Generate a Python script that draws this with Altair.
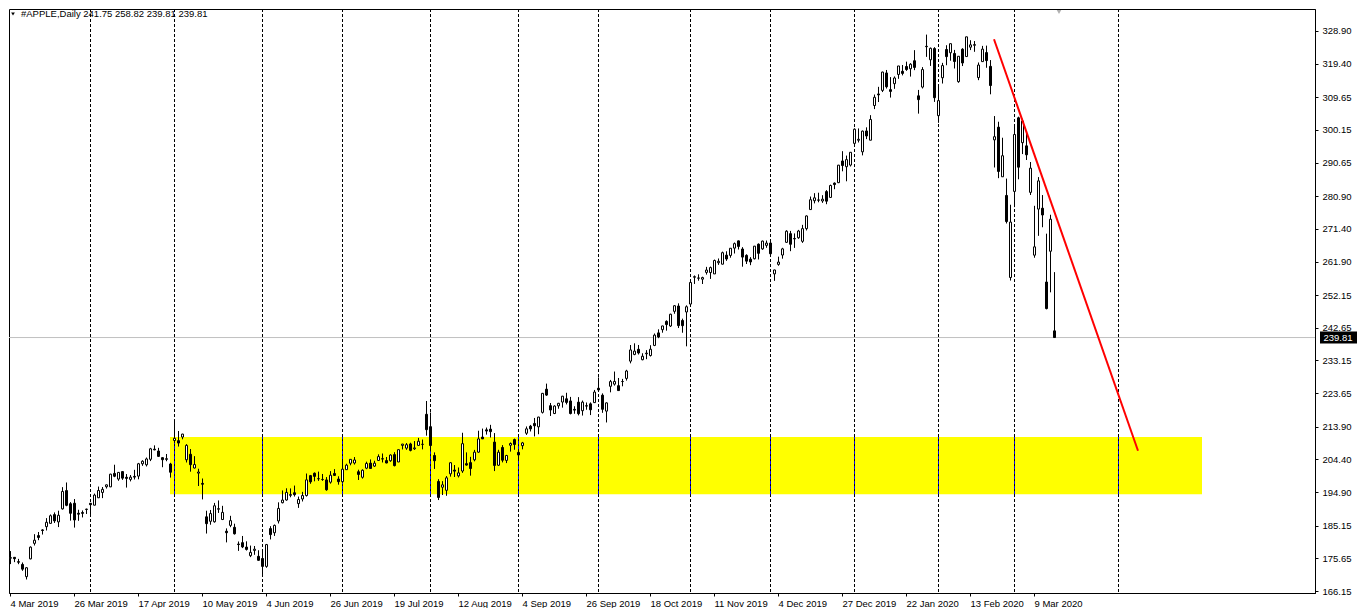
import altair as alt
import pandas as pd

# ---------------- data ----------------
opens = [
    # Mar 2019
    175.69,175.94,174.67,173.87,170.32,175.49,180.00,182.25,183.90,184.85,185.80,188.35,186.23,190.02,195.34,191.51,191.66,188.75,188.95,189.83,
    # Apr 2019
    191.64,191.09,193.25,194.79,196.45,196.42,200.32,198.68,200.85,199.20,198.58,199.46,199.54,203.12,202.83,204.43,207.36,206.83,204.90,204.40,203.06,
    # May 2019
    209.88,209.84,210.89,204.29,205.88,201.90,200.40,197.42,187.71,186.41,186.27,189.91,186.93,183.52,185.22,184.66,179.80,180.20,178.92,176.42,177.95,176.23,
    # Jun 2019
    175.60,173.30,184.28,183.08,186.51,191.81,192.60,193.95,194.70,191.55,192.90,193.89,199.68,200.37,198.80,198.54,198.43,197.77,200.29,198.68,
    # Jul 2019
    197.92,201.41,203.28,203.35,200.81,199.20,201.85,203.31,202.45,204.09,204.59,204.05,204.00,205.79,203.65,208.46,207.67,208.89,207.48,208.46,208.76,217.50,
    # Aug 2019
    213.90,205.53,197.99,196.31,195.41,200.20,201.30,199.62,201.02,203.16,203.46,204.28,206.50,210.88,212.99,213.19,209.43,202.70,207.86,204.10,208.50,210.16,
    # Sep 2019
    206.43,208.39,212.00,214.05,214.84,213.86,218.07,224.80,220.00,217.73,219.96,221.06,222.01,221.38,218.95,221.03,218.55,220.00,220.54,220.90,
    # Oct 2019
    225.07,223.06,218.43,225.64,226.27,225.82,227.03,227.93,232.95,234.90,236.39,233.37,235.09,234.59,237.52,241.16,242.10,244.51,243.16,247.42,248.97,244.76,247.24,
    # Nov 2019
    249.54,257.33,257.05,256.77,258.74,258.69,258.30,261.55,261.13,263.75,263.68,265.80,267.90,265.54,263.69,262.59,262.71,266.94,265.58,266.60,
    # Dec 2019
    267.27,258.31,261.07,263.79,267.48,270.00,268.60,268.81,267.78,271.46,277.00,279.57,279.80,279.50,282.23,280.53,284.69,284.82,291.12,289.46,289.93,
    # Jan 2020
    296.24,297.15,293.79,299.84,297.16,307.24,310.60,311.64,316.70,311.85,313.59,316.27,317.19,318.58,317.92,320.25,310.06,312.60,324.45,320.54,323.80,
    # Feb 2020
    304.30,315.31,323.52,322.57,322.37,314.18,323.60,321.47,324.19,324.74,315.36,320.00,322.63,318.62,297.26,300.95,286.53,281.10,257.26,
    # Mar 2020
    282.28,303.67,296.44,295.52,282.00,263.75,277.14,277.39,255.94,264.89,241.75,
]
highs = [
    177.75,176.00,175.49,174.44,173.07,179.12,182.67,183.30,184.10,187.33,188.39,188.99,189.49,196.33,197.69,191.98,192.88,189.76,189.56,190.08,
    191.68,194.46,196.50,196.37,197.10,200.23,202.85,200.74,201.00,200.14,199.85,201.37,203.38,204.15,204.94,207.75,208.48,207.76,205.00,205.97,203.40,
    215.31,212.65,211.84,208.84,207.42,205.34,201.68,198.85,189.48,189.70,191.75,192.47,190.90,184.35,188.00,185.71,180.54,182.14,180.59,179.35,179.23,177.99,
    177.92,179.83,184.99,185.47,191.92,195.37,196.00,195.97,196.79,193.59,194.96,200.29,199.88,200.61,200.85,200.16,199.26,200.99,201.57,199.49,
    204.49,203.13,204.44,205.08,201.40,201.51,203.73,204.39,204.00,205.87,206.11,205.09,205.88,206.50,207.23,208.91,209.15,209.24,209.73,210.64,210.16,221.37,
    218.03,206.43,198.65,198.07,199.56,203.53,202.76,202.05,212.14,206.44,205.14,207.16,212.73,213.35,213.65,214.44,212.05,207.19,208.55,205.72,209.32,210.45,
    206.98,209.48,213.97,214.42,216.44,216.78,223.71,226.42,220.79,220.13,220.82,222.85,223.76,222.56,219.84,222.49,221.50,220.94,220.96,224.58,
    228.22,223.58,220.96,227.49,229.93,228.06,227.79,230.44,237.64,238.13,237.65,235.24,236.15,237.58,240.99,242.20,243.24,244.80,246.73,249.25,249.75,245.30,249.17,
    255.93,257.85,258.19,257.49,260.35,260.44,262.47,262.79,264.78,264.88,265.78,267.43,268.00,266.08,264.01,263.18,266.44,267.16,267.98,268.00,
    268.25,259.53,263.31,265.89,271.00,270.80,270.07,271.10,272.56,275.30,280.79,281.77,281.90,281.18,282.65,284.25,284.89,289.98,293.97,292.69,293.68,
    300.60,300.58,299.96,300.90,304.44,310.43,312.67,317.07,317.57,315.50,315.70,318.74,319.02,319.99,319.56,323.33,311.77,318.40,327.85,324.09,324.20,
    313.49,319.64,324.76,325.22,323.40,321.55,323.90,327.22,326.22,325.98,319.75,324.57,324.65,320.45,304.18,302.53,297.88,286.00,278.41,
    301.44,304.00,303.40,299.55,290.82,278.09,286.44,281.22,270.00,275.50,258.82,
]
lows = [
    173.97,174.54,173.94,172.02,169.50,175.35,179.37,180.92,182.56,183.74,185.79,185.92,184.73,189.81,190.78,186.60,184.58,186.55,187.53,188.54,
    188.38,191.05,193.15,193.14,195.93,196.34,199.23,198.18,198.44,196.21,198.01,198.56,198.61,202.52,202.34,203.90,207.05,205.12,202.12,203.86,199.11,
    209.23,208.13,210.23,203.50,200.83,201.75,196.66,192.77,182.85,185.41,186.02,188.84,186.76,180.28,184.70,182.55,177.81,178.62,177.91,176.00,176.67,174.99,
    170.27,172.90,181.14,182.15,185.77,191.62,192.40,193.39,193.60,190.30,192.17,193.60,197.31,198.03,198.15,198.17,195.29,197.35,199.57,197.05,
    197.60,201.36,202.69,202.90,198.41,198.81,201.56,201.71,202.20,204.00,203.50,203.27,203.70,202.36,203.61,207.29,207.17,206.73,207.14,208.44,207.31,211.30,
    206.74,201.63,192.58,194.04,193.82,199.39,199.29,199.15,200.48,202.59,199.67,203.84,206.30,210.32,211.60,210.75,201.00,202.50,203.53,203.32,206.66,207.20,
    204.22,207.32,211.51,212.51,211.07,211.71,217.73,222.86,217.02,217.56,219.12,219.44,220.37,217.47,217.65,217.19,217.14,218.83,217.28,220.79,
    224.20,217.93,215.13,223.89,225.84,224.33,225.64,227.30,232.31,234.67,234.88,233.20,233.52,234.29,237.32,239.62,241.22,241.81,242.88,246.72,242.57,241.21,237.26,
    249.16,255.38,256.32,255.37,258.11,256.85,258.28,260.92,261.07,262.10,263.01,264.23,265.39,260.40,261.18,260.84,262.52,262.50,265.31,265.90,
    263.45,256.29,260.68,262.73,267.30,264.91,265.86,268.50,267.32,270.93,276.98,278.80,279.12,278.95,278.56,280.37,282.92,284.70,288.12,285.22,289.52,
    295.19,296.50,292.75,297.48,297.16,306.20,308.25,311.15,312.17,309.55,312.09,315.00,316.00,317.31,315.65,317.52,304.88,312.19,321.38,318.75,308.29,
    302.22,313.63,318.95,320.26,318.00,313.85,318.71,321.47,323.35,322.85,314.61,320.00,318.21,310.50,289.23,286.13,286.50,272.96,256.37,
    277.72,285.80,293.13,291.41,281.23,263.00,269.37,271.86,248.00,252.95,239.81,
]
closes = [
    175.85,175.53,174.52,172.50,172.91,178.90,180.91,181.71,183.73,186.12,188.02,186.53,188.16,195.09,191.05,188.74,186.79,188.47,188.72,189.95,
    191.24,194.02,195.35,195.69,197.00,200.10,199.50,200.62,198.95,198.87,199.23,199.25,203.13,203.86,204.53,207.48,207.16,205.28,204.30,204.61,200.67,
    210.52,209.15,211.75,208.48,202.86,202.90,200.72,197.18,185.72,188.66,190.92,190.08,189.00,183.09,186.60,182.78,179.66,178.97,178.23,177.38,178.30,175.07,
    173.30,179.64,182.54,185.22,190.15,192.58,194.81,194.19,194.15,192.74,193.89,198.45,197.87,199.46,198.78,198.58,195.57,199.80,199.74,197.92,
    201.55,202.73,204.41,204.23,200.02,201.24,203.23,201.75,203.30,205.21,204.50,203.35,205.66,202.59,207.22,208.84,208.67,207.02,207.74,209.68,208.78,213.04,
    208.43,204.02,193.34,197.00,199.04,203.43,200.99,200.48,208.97,202.75,201.74,206.50,210.35,210.36,212.64,212.46,202.64,206.49,204.16,205.53,209.01,208.74,
    205.70,209.19,213.28,213.26,214.17,216.70,223.59,223.09,218.75,219.90,220.70,222.77,220.96,217.73,218.72,217.68,221.03,219.89,218.82,223.97,
    224.59,218.96,220.82,227.01,227.06,224.40,227.03,230.09,236.21,235.87,235.32,234.37,235.28,236.41,240.51,239.96,243.18,243.58,246.58,249.05,243.29,243.26,248.76,
    255.82,257.50,257.13,257.24,259.43,260.14,262.20,261.96,264.47,262.64,265.76,267.10,266.29,263.19,262.01,261.78,266.37,264.29,267.84,267.25,
    264.16,259.45,261.74,265.58,270.71,266.92,268.48,270.77,271.46,275.15,279.86,280.41,279.74,280.02,279.44,284.00,284.27,289.91,289.80,291.52,293.65,
    300.35,297.43,299.80,298.39,303.19,309.63,310.33,316.96,312.68,311.34,315.24,318.73,316.57,317.70,319.23,318.31,308.95,317.69,324.34,323.87,309.51,
    308.66,318.85,321.45,325.21,320.03,321.55,319.61,327.20,324.87,324.95,319.00,323.62,320.30,313.05,298.18,288.08,292.65,273.52,273.36,
    298.81,289.32,302.74,292.92,289.03,266.17,285.34,275.43,248.23,274.20,239.81,
]

# time axis labels (bar index -> label)
tick_bars = [0, 16, 32, 48, 64, 80, 96, 112, 128, 144, 160, 176, 192, 208, 224, 240, 256]
tick_labels = ["4 Mar 2019", "26 Mar 2019", "17 Apr 2019", "10 May 2019", "4 Jun 2019",
               "26 Jun 2019", "19 Jul 2019", "12 Aug 2019", "4 Sep 2019", "26 Sep 2019",
               "18 Oct 2019", "11 Nov 2019", "4 Dec 2019", "27 Dec 2019", "22 Jan 2020",
               "13 Feb 2020", "9 Mar 2020"]
price_ticks = [328.90, 319.40, 309.65, 300.15, 290.65, 280.90, 271.40, 261.90, 252.15,
               242.65, 233.15, 223.65, 213.90, 204.40, 194.90, 185.15, 175.65, 166.15]
# monthly period separators (bar index)
separators = [20, 41, 63, 83, 105, 127, 147, 170, 190, 211, 232, 251, 277]
# yellow zone (bar from/to, price from/to)
zone_bars = [40, 298]
zone_prices = [194.3, 210.9]
# red trend line
trend_bars = [246, 282]
trend_prices = [326.5, 206.9]
last_price = 239.81
header = "#APPLE,Daily 241.75 258.82 239.81 239.81"

# ---------------- chart ----------------
W, H = 1306, 584
FONT = "Liberation Sans"

df = pd.DataFrame({"bar": list(range(len(opens))), "open": opens, "high": highs,
                   "low": lows, "close": closes})
df["dir"] = ["up" if c >= o else "down" for o, c in zip(opens, closes)]

xs = alt.Scale(domain=[-0.25, 326.25], nice=False, zero=False, padding=0)
ys = alt.Scale(domain=[165.57, 335.29], nice=False, zero=False, padding=0)

label_arr = "[" + ",".join("'" + t + "'" for t in tick_labels) + "]"
xaxis = alt.Axis(values=tick_bars, labelExpr=label_arr + "[round(datum.value/16)]",
                 labelAlign="left", labelBaseline="top", labelPadding=2, tickSize=3,
                 tickColor="black", domainColor="black", grid=False, title=None,
                 labelFont=FONT, labelFontSize=9.5, labelColor="black",
                 labelOverlap=False, labelFlush=False, labelBound=False)
yaxis = alt.Axis(orient="right", values=price_ticks, format=".2f", tickSize=3,
                 tickColor="black", domainColor="black", grid=False, title=None,
                 labelFont=FONT, labelFontSize=9.5, labelColor="black", labelPadding=4,
                 labelOverlap=False, labelFlush=False, labelBound=False)


def X(field):
    return alt.X(field, scale=xs, axis=xaxis)


def Y(field):
    return alt.Y(field, scale=ys, axis=yaxis)


zone_df = pd.DataFrame({"x": [zone_bars[0]], "x2": [zone_bars[1]],
                        "y": [zone_prices[0]], "y2": [zone_prices[1]]})
zone = alt.Chart(zone_df).mark_rect(color="#FFFF00").encode(
    x=X("x:Q"), x2="x2:Q", y=Y("y:Q"), y2="y2:Q")

sep_df = pd.DataFrame({"bar": separators})
seps = alt.Chart(sep_df).mark_rule(color="black", strokeDash=[3, 2], strokeWidth=1,
                                    xOffset=0.5).encode(x=X("bar:Q"))

sep_in = pd.DataFrame({"bar": [s for s in separators if zone_bars[0] <= s <= zone_bars[1]]})
sep_in["y"] = zone_prices[0]
sep_in["y2"] = zone_prices[1]
seps_blue = alt.Chart(sep_in).mark_rule(color="#0000FF", strokeDash=[3, 2], strokeWidth=1,
                                         xOffset=0.5).encode(
    x=X("bar:Q"), y=Y("y:Q"), y2="y2:Q")

bid = alt.Chart(pd.DataFrame({"p": [last_price]})).mark_rule(
    color="#C0C0C0", strokeWidth=1).encode(y=Y("p:Q"))

wicks = alt.Chart(df).mark_rule(color="black", strokeWidth=1, xOffset=0.5).encode(
    x=X("bar:Q"), y=Y("low:Q"), y2="high:Q")

bodies = alt.Chart(df).mark_bar(width=2, stroke="black", strokeWidth=1, xOffset=0.5).encode(
    x=X("bar:Q"), y=Y("open:Q"), y2="close:Q",
    fill=alt.Fill("dir:N", scale=alt.Scale(domain=["up", "down"], range=["white", "black"]),
                  legend=None))

trend_df = pd.DataFrame({"bar": trend_bars, "p": trend_prices})
trend = alt.Chart(trend_df).mark_line(color="#FF0000", strokeWidth=2).encode(
    x=X("bar:Q"), y=Y("p:Q"))

box = alt.Chart(pd.DataFrame({"p": [last_price]})).mark_rect(
    color="black", yOffset=-6, y2Offset=6).encode(
    x=alt.value(W + 5), x2=alt.value(W + 42), y=Y("p:Q"), y2="p:Q")
box_txt = alt.Chart(pd.DataFrame({"p": [last_price], "t": [f"{last_price:.2f}"]})).mark_text(
    color="white", font=FONT, fontSize=9.5, align="center", baseline="middle").encode(
    x=alt.value(W + 23), y=Y("p:Q"), text="t:N")

hdr_tri = alt.Chart(pd.DataFrame({"k": [1]})).mark_point(
    shape="triangle-down", filled=True, color="black", size=14, opacity=1).encode(
    x=alt.value(4), y=alt.value(5))
hdr = alt.Chart(pd.DataFrame({"t": [header]})).mark_text(
    font=FONT, fontSize=9.5, align="left", baseline="middle", color="black").encode(
    x=alt.value(12), y=alt.value(5), text="t:N")

shift_mark = alt.Chart(pd.DataFrame({"bar": [262.25]})).mark_point(
    shape="triangle-down", filled=True, color="#B0B0B0", size=20, opacity=1).encode(
    x=X("bar:Q"), y=alt.value(3))

chart = alt.layer(zone, seps, seps_blue, bid, wicks, bodies, trend, box, box_txt,
                  hdr_tri, hdr, shift_mark).properties(
    width=W, height=H,
    padding={"left": 0, "top": 0, "right": 0, "bottom": 0},
    background="white",
).configure_view(stroke="black", strokeWidth=1).configure_axis(labelOverlap=False)

chart.save("out.html", embed_options={"renderer": "svg", "actions": False})
